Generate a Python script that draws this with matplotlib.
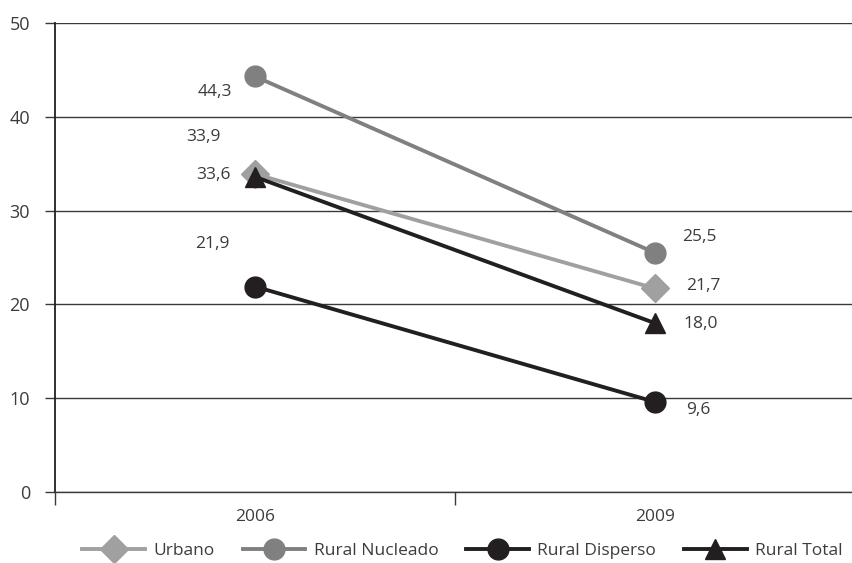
import matplotlib
matplotlib.use('Agg')
import matplotlib.pyplot as plt
import numpy as np

years = ['2006', '2009']
series_names = ['Urbano', 'Rural Nucleado', 'Rural Disperso', 'Rural Total']
urbano = [33.9, 21.7]
rural_nucleado = [44.3, 25.5]
rural_disperso = [21.9, 9.6]
rural_total = [33.6, 18.0]
y_ticks = [0, 10, 20, 30, 40, 50]

plt.rcParams['font.family'] = ['Open Sans', 'DejaVu Sans']
TXT = '#3c3c3c'

fig = plt.figure(figsize=(8.52, 5.63), dpi=100)
ax = fig.add_axes([55 / 852, 1 - 492 / 563, 800 / 852, (492 - 23) / 563])

x = np.array([0.5, 1.5])
styles = [
    (urbano, '#a0a0a0', 'D', 14),
    (rural_nucleado, '#808080', 'o', 15),
    (rural_disperso, '#231f20', 'o', 15),
    (rural_total, '#231f20', '^', 15),
]
for (vals, col, mk, ms), name in zip(styles, series_names):
    ax.plot(x, vals, color=col, lw=2.8, marker=mk, markersize=ms, label=name, zorder=3)

# value label placement: (x offset in points, y in data units)
lab_pos = {
    'Urbano': [(-37, 37.8), (35, 22.0)],
    'Rural Nucleado': [(-29, 42.6), (32, 27.2)],
    'Rural Disperso': [(-31, 26.4), (31, 8.7)],
    'Rural Total': [(-30, 33.8), (33, 17.9)],
}
for vals, name in zip([urbano, rural_nucleado, rural_disperso, rural_total], series_names):
    for i, v in enumerate(vals):
        dx, ty = lab_pos[name][i]
        txt = f'{v:.1f}'.replace('.', ',')
        ax.annotate(txt, xy=(x[i], ty), xytext=(dx, 0), textcoords='offset points',
                    ha='center', va='center', fontsize=12.5, color=TXT)

ax.set_xlim(0, 2)
ax.set_ylim(0, 50)
ax.set_yticks(y_ticks)
ax.set_yticklabels([str(t) for t in y_ticks], fontsize=13, color=TXT)
ax.yaxis.grid(True, color='#3a3a3a', lw=1)
ax.set_axisbelow(True)
ax.tick_params(axis='y', length=7, width=1, color='#3a3a3a', pad=11)

ax.set_xticks([0, 1, 2])
ax.set_xticklabels([])
ax.set_xticks(x, minor=True)
ax.set_xticklabels(years, minor=True, fontsize=12.5, color=TXT)
ax.tick_params(axis='x', which='major', length=9.5, width=1, color='#3a3a3a')
ax.tick_params(axis='x', which='minor', length=0, pad=12)

for s in ['top', 'right']:
    ax.spines[s].set_visible(False)
ax.spines['left'].set_color('#231f20')
ax.spines['left'].set_linewidth(1.3)
ax.spines['bottom'].set_color('#3a3a3a')
ax.spines['bottom'].set_linewidth(1)

fig.legend(loc='center', bbox_to_anchor=(0.543, 1 - 551 / 563), ncol=4, frameon=False,
           fontsize=12.5, handlelength=3.6, columnspacing=1.6, handletextpad=0.5,
           labelcolor=TXT)

fig.savefig('out.png', dpi=100)
